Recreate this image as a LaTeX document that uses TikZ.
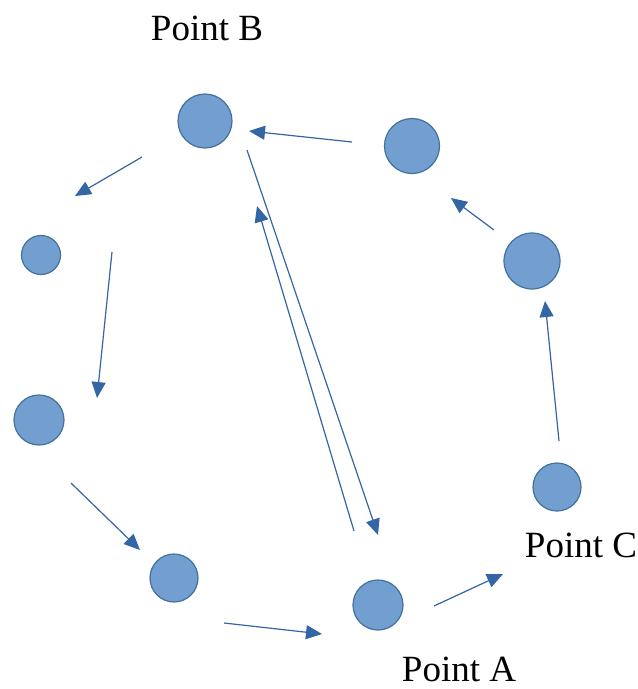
\documentclass[tikz,border=0pt]{standalone}
\usepackage{fontspec}
\setmainfont{Liberation Serif}
\usetikzlibrary{arrows.meta}
\definecolor{cfill}{RGB}{114,159,207}
\definecolor{cedge}{RGB}{65,113,156}
\definecolor{carrow}{RGB}{52,101,164}
\begin{document}
\begin{tikzpicture}[x=1pt,y=-1pt,
  dot/.style={circle,fill=cfill,draw=cedge,line width=1.2pt,inner sep=0pt,minimum size=#1},
  arr/.style={draw=carrow,line width=1.2pt,-{Triangle[length=16pt,width=14pt]}},
  lbl/.style={font=\fontsize{37}{40}\selectfont,inner sep=0pt,text depth=0pt,anchor=base}]
\useasboundingbox (0,0) rectangle (638,689);
% circles
\node[dot=54pt] (nB) at (205,121) {};
\node[dot=55pt] (nTR) at (412,146) {};
\node[dot=56pt] (nR) at (532,261) {};
\node[dot=48pt] (nC) at (557,487) {};
\node[dot=50pt] (nA) at (378,605) {};
\node[dot=48pt] (nBot) at (174,578) {};
\node[dot=50pt] (nL) at (39,420) {};
\node[dot=39pt] (nUL) at (41,255) {};
% labels
\node[lbl] (tB) at (207,40.5) {Point B};
\node[lbl] (tC) at (581,557.5) {Point C};
\node[lbl] (tA) at (459,681) {Point A};
% arrow endpoints
\coordinate (a1s) at (352,142); \coordinate (a1e) at (249,131);
\coordinate (a2s) at (494,230); \coordinate (a2e) at (451,198);
\coordinate (a3s) at (559,441); \coordinate (a3e) at (545,301);
\coordinate (a4s) at (434,606); \coordinate (a4e) at (503,574);
\coordinate (a5s) at (224,623); \coordinate (a5e) at (322,634);
\coordinate (a6s) at (71,483);  \coordinate (a6e) at (140,550);
\coordinate (a7s) at (112,252); \coordinate (a7e) at (97,398);
\coordinate (a8s) at (142,157); \coordinate (a8e) at (75,196);
\coordinate (a9s) at (247,150); \coordinate (a9e) at (378,535);
\coordinate (a10s) at (354,531); \coordinate (a10e) at (257,206);
\draw[arr] (a1s) -- (a1e);
\draw[arr] (a2s) -- (a2e);
\draw[arr] (a3s) -- (a3e);
\draw[arr] (a4s) -- (a4e);
\draw[arr] (a5s) -- (a5e);
\draw[arr] (a6s) -- (a6e);
\draw[arr] (a7s) -- (a7e);
\draw[arr] (a8s) -- (a8e);
\draw[arr] (a9s) -- (a9e);
\draw[arr] (a10s) -- (a10e);
\end{tikzpicture}
\end{document}
